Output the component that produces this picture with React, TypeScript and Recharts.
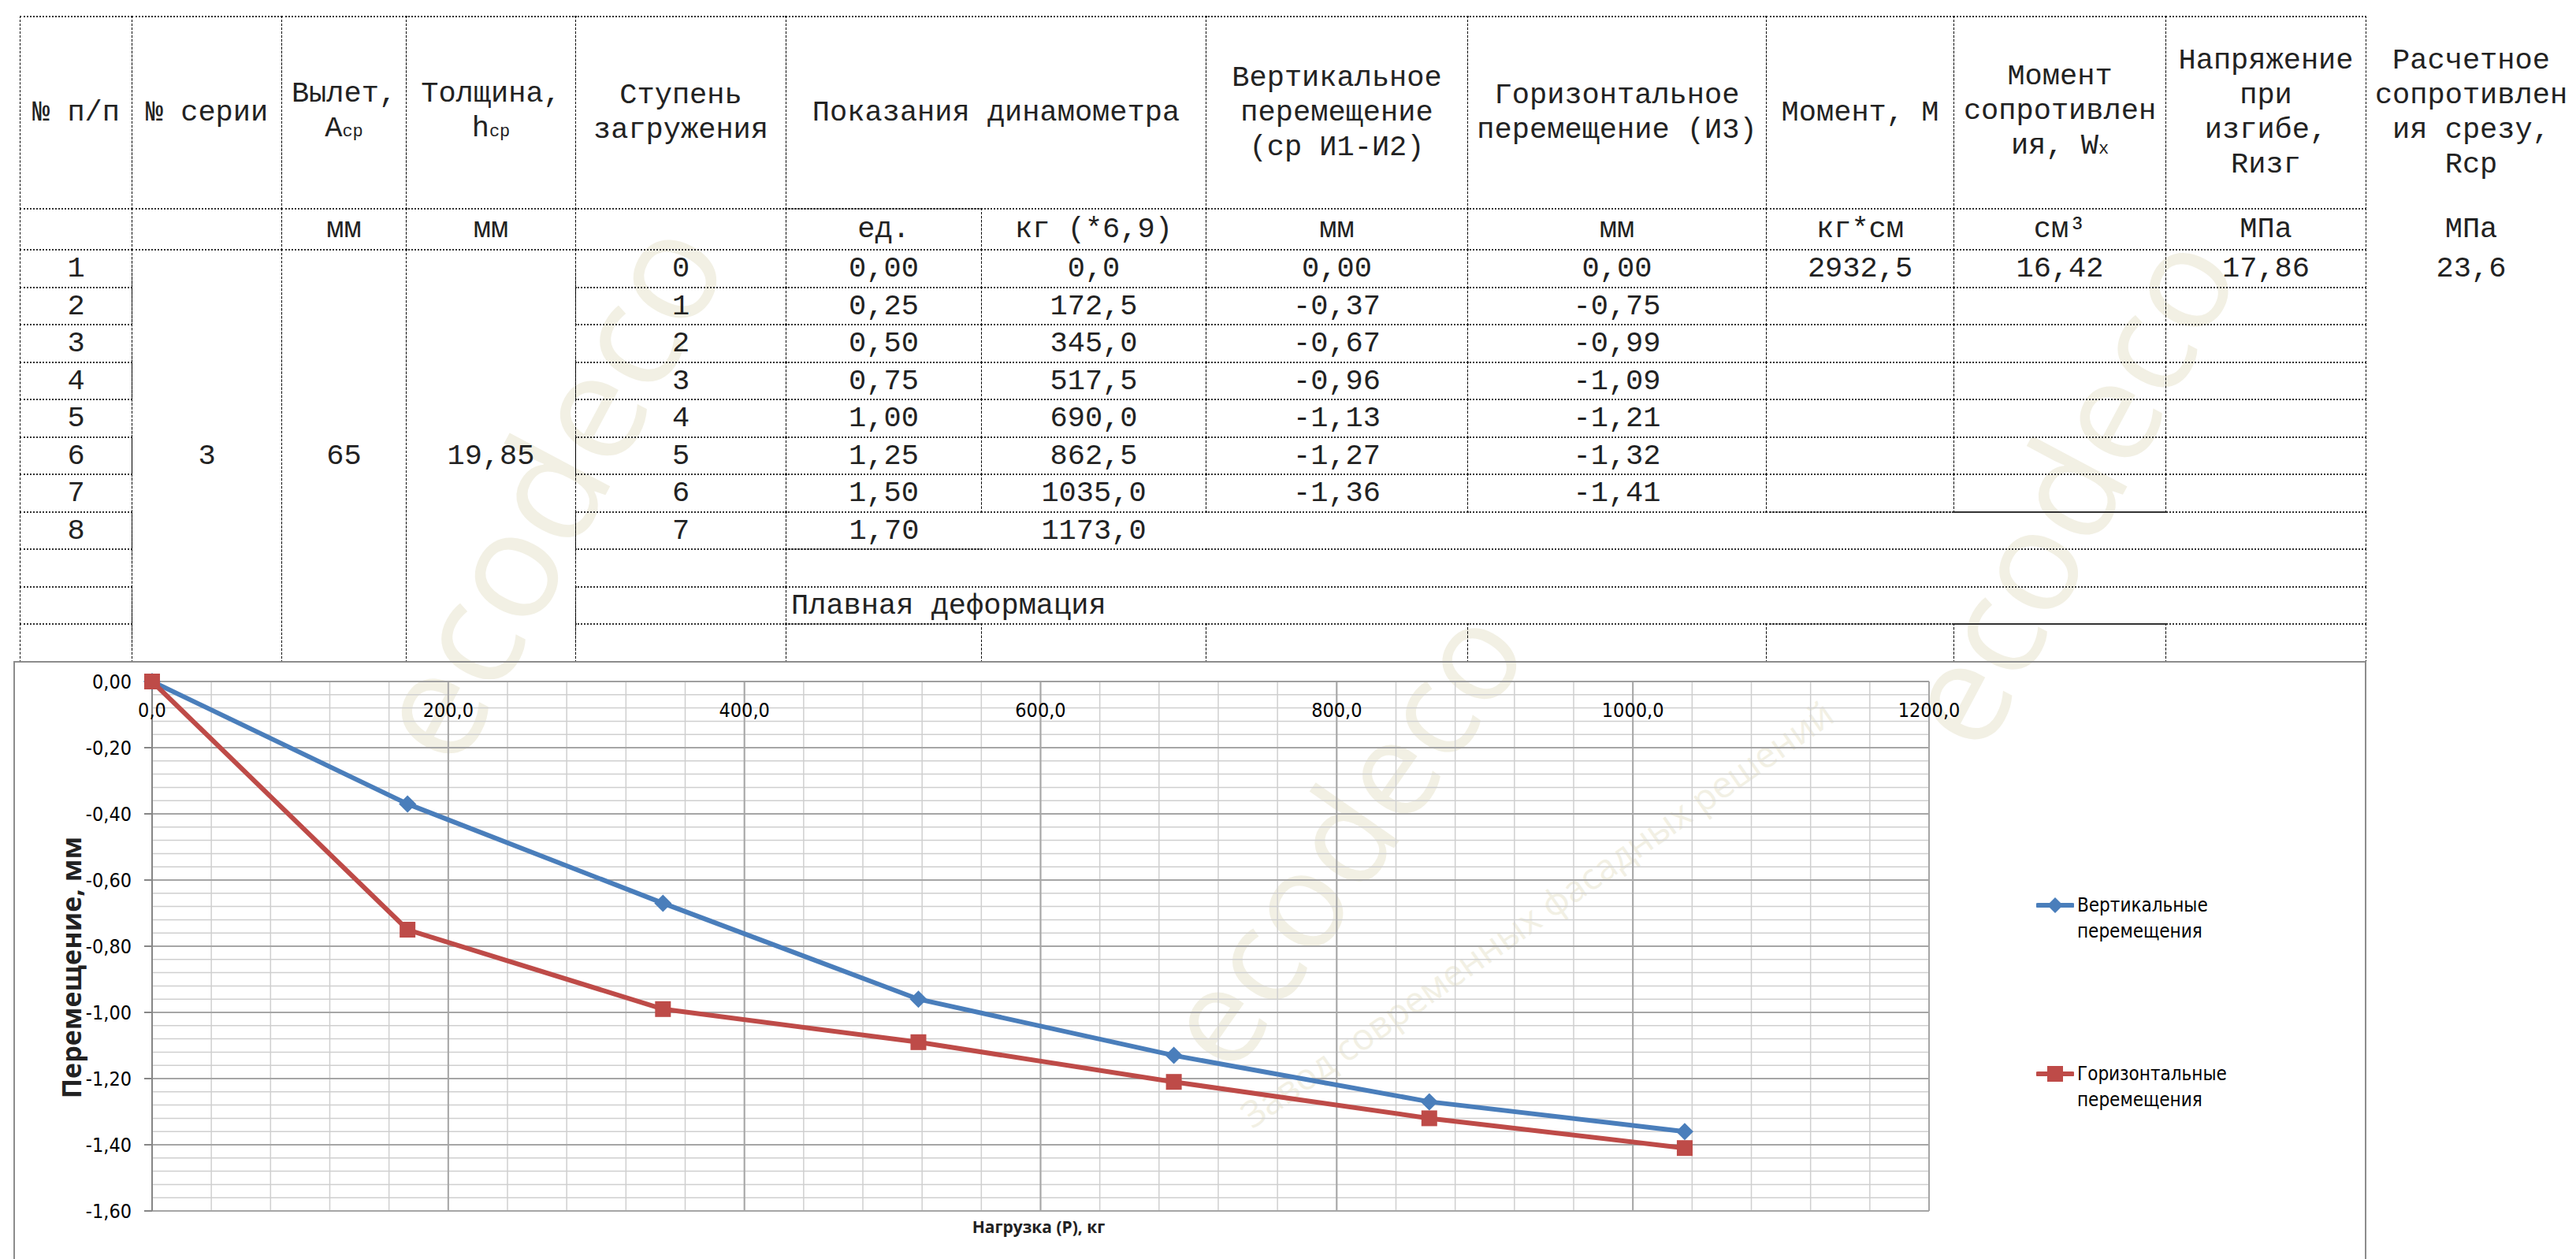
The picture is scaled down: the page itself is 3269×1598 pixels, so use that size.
import React from "react";
import { LineChart, Line, XAxis, YAxis, CartesianGrid } from "recharts";

// --- data ---
const ROW_NO = ["1", "2", "3", "4", "5", "6", "7", "8"];
const LOAD_STEP = ["0", "1", "2", "3", "4", "5", "6", "7"];
const DYN_UNITS = ["0,00", "0,25", "0,50", "0,75", "1,00", "1,25", "1,50", "1,70"];
const DYN_KG_TXT = ["0,0", "172,5", "345,0", "517,5", "690,0", "862,5", "1035,0", "1173,0"];

const LOAD_KG = [0, 172.5, 345, 517.5, 690, 862.5, 1035];
const VERT_MM = [0, -0.37, -0.67, -0.96, -1.13, -1.27, -1.36];
const HORIZ_MM = [0, -0.75, -0.99, -1.09, -1.21, -1.32, -1.41];

const X_TICKS = [0, 200, 400, 600, 800, 1000, 1200];
const Y_TICKS = [0, -0.2, -0.4, -0.6, -0.8, -1.0, -1.2, -1.4, -1.6];

const BLUE = "#4a7ebb";
const RED = "#be4b48";

const steps = (from: number, to: number, step: number) => {
  const out: number[] = [];
  for (let v = from; v <= to + 1e-9; v += step) out.push(+v.toFixed(4));
  return out;
};
const X_MINOR = steps(0, 1200, 40);
const Y_MINOR = steps(-1.6, 0, 0.04);

const comma = (v: number, d: number) => v.toFixed(d).replace(".", ",");

// --- table geometry ---
const COL_X = [25, 167, 357, 515, 730, 997, 1245, 1530, 1862, 2241, 2479, 2748, 3002, 3269];
const ROW_Y = [21, 265, 317, 365, 412, 460, 507, 555, 602, 650, 697, 745, 792, 840];

type Cell = {
  r: number;
  c: number;
  rs?: number;
  cs?: number;
  text?: React.ReactNode;
  b?: string;
  left?: boolean;
};

const sub = (t: string) => <span style={{ fontSize: 22 }}>{t}</span>;

function buildCells(): Cell[] {
  const cells: Cell[] = [];
  const nb = "";
  // header
  cells.push({ r: 0, c: 0, text: "№ п/п" });
  cells.push({ r: 0, c: 1, text: "№ серии" });
  cells.push({ r: 0, c: 2, text: <>Вылет,<br />A{sub("ср")}</> });
  cells.push({ r: 0, c: 3, text: <>Толщина,<br />h{sub("ср")}</> });
  cells.push({ r: 0, c: 4, text: "Ступень\nзагружения" });
  cells.push({ r: 0, c: 5, cs: 2, text: "Показания динамометра" });
  cells.push({ r: 0, c: 7, text: "Вертикальное\nперемещение\n(ср И1-И2)" });
  cells.push({ r: 0, c: 8, text: "Горизонтальное\nперемещение (И3)" });
  cells.push({ r: 0, c: 9, text: "Момент, М" });
  cells.push({ r: 0, c: 10, text: <>Момент<br />сопротивлен<br />ия, W{sub("x")}</> });
  cells.push({ r: 0, c: 11, text: "Напряжение\nпри\nизгибе,\nRизг" });
  cells.push({ r: 0, c: 12, b: nb, text: "Расчетное\nсопротивлен\nия срезу,\nRср" });
  // units
  const units = ["", "", "мм", "мм", "", "ед.", "кг (*6,9)", "мм", "мм", "кг*см", "см³", "МПа"];
  units.forEach((u, c) => cells.push({ r: 1, c, text: u }));
  cells.push({ r: 1, c: 12, b: nb, text: "МПа" });
  // merged series columns
  cells.push({ r: 2, c: 1, rs: 11, text: "3" });
  cells.push({ r: 2, c: 2, rs: 11, text: "65" });
  cells.push({ r: 2, c: 3, rs: 11, text: "19,85" });
  // data rows 1..7
  for (let i = 0; i < 7; i++) {
    const r = i + 2;
    cells.push({ r, c: 0, text: ROW_NO[i] });
    cells.push({ r, c: 4, text: LOAD_STEP[i] });
    cells.push({ r, c: 5, text: DYN_UNITS[i] });
    cells.push({ r, c: 6, text: DYN_KG_TXT[i] });
    cells.push({ r, c: 7, text: comma(VERT_MM[i], 2) });
    cells.push({ r, c: 8, text: comma(HORIZ_MM[i], 2) });
    cells.push({ r, c: 9, text: i === 0 ? "2932,5" : "" });
    cells.push({ r, c: 10, text: i === 0 ? "16,42" : "" });
    cells.push({ r, c: 11, text: i === 0 ? "17,86" : "" });
    if (i === 0) cells.push({ r, c: 12, b: nb, text: "23,6" });
  }
  // row 8
  cells.push({ r: 9, c: 0, text: ROW_NO[7] });
  cells.push({ r: 9, c: 4, text: LOAD_STEP[7] });
  cells.push({ r: 9, c: 5, b: "tlb", text: DYN_UNITS[7] });
  cells.push({ r: 9, c: 6, b: "tb", text: DYN_KG_TXT[7] });
  cells.push({ r: 9, c: 7, cs: 5, b: "tbr" });
  // empty rows
  cells.push({ r: 10, c: 0 });
  cells.push({ r: 10, c: 4 });
  cells.push({ r: 10, c: 5, cs: 7 });
  cells.push({ r: 11, c: 0 });
  cells.push({ r: 11, c: 4 });
  cells.push({ r: 11, c: 5, cs: 7, left: true, text: "Плавная деформация" });
  cells.push({ r: 12, c: 0 });
  for (let c = 4; c < 12; c++) cells.push({ r: 12, c });
  return cells;
}

const H_BORDER = "2px dotted #333";
const V_BORDER = "1px dashed #000";

function Table() {
  const cells = buildCells();
  return (
    <>
      {cells.map((cell, i) => {
        const rs = cell.rs ?? 1;
        const cs = cell.cs ?? 1;
        const x0 = COL_X[cell.c];
        const x1 = COL_X[cell.c + cs];
        const y0 = ROW_Y[cell.r];
        const y1 = ROW_Y[cell.r + rs];
        const b = cell.b ?? "tlrb";
        return (
          <div
            key={i}
            style={{
              position: "absolute",
              left: x0,
              top: y0 - 1,
              width: x1 - x0 + 1,
              height: y1 - y0 + 2,
              boxSizing: "border-box",
              borderTop: b.includes("t") ? H_BORDER : "none",
              borderBottom: b.includes("b") ? H_BORDER : "none",
              borderLeft: b.includes("l") ? V_BORDER : "none",
              borderRight: b.includes("r") ? V_BORDER : "none",
              display: "flex",
              alignItems: "center",
              justifyContent: cell.left ? "flex-start" : "center",
              paddingLeft: cell.left ? 6 : 0,
              textAlign: "center",
              whiteSpace: "pre-line",
              lineHeight: "44px",
              overflow: "hidden",
            }}
          >
            <div style={{ whiteSpace: "pre-line" }}>{cell.text}</div>
          </div>
        );
      })}
    </>
  );
}

// faint background watermark of the source document
const WATERMARKS = [
  { text: "ecodeco", x: 690, y: 620, size: 190, rot: -62 },
  { text: "ecodeco", x: 1700, y: 1060, size: 170, rot: -55 },
  { text: "Завод современных фасадных решений", x: 1950, y: 1160, size: 46, rot: -35 },
  { text: "ecodeco", x: 2620, y: 620, size: 180, rot: -62 },
];

function Watermark() {
  return (
    <>
      {WATERMARKS.map((w, i) => (
        <div
          key={i}
          style={{
            position: "absolute",
            left: w.x - 800,
            top: w.y - w.size * 0.6,
            width: 1600,
            height: w.size * 1.2,
            lineHeight: `${w.size * 1.2}px`,
            textAlign: "center",
            fontFamily: "'Open Sans', sans-serif",
            fontSize: w.size,
            color: "#f2f0e4",
            transform: `rotate(${w.rot}deg)`,
            whiteSpace: "nowrap",
          }}
        >
          {w.text}
        </div>
      ))}
    </>
  );
}

// --- chart ---
const CHART_W = 2982;
const CHART_H = 759;
const PLOT_TOP = 24;
const CHART_FONT = "'Liberation Sans Narrow', 'DejaVu Sans Condensed', 'Roboto Condensed', Roboto, sans-serif";

const chartData = LOAD_KG.map((x, i) => ({ x, v: VERT_MM[i], h: HORIZ_MM[i] }));

const Diamond = (props: any) => {
  const { cx, cy } = props;
  if (cx == null || cy == null) return null;
  const s = 11;
  return <path d={`M${cx},${cy - s}L${cx + s},${cy}L${cx},${cy + s}L${cx - s},${cy}Z`} fill={BLUE} />;
};

const Square = (props: any) => {
  const { cx, cy } = props;
  if (cx == null || cy == null) return null;
  const s = 10;
  return <rect x={cx - s} y={cy - s} width={s * 2} height={s * 2} fill={RED} />;
};

const XTick = (props: any) => {
  const { x, payload } = props;
  return (
    <text x={x} y={PLOT_TOP + 36} textAnchor="middle" dominantBaseline="central" fontSize={25} fill="#000" fontFamily={CHART_FONT}>
      {comma(payload.value, 1)}
    </text>
  );
};

function Chart() {
  return (
    <div
      style={{
        position: "absolute",
        left: 17,
        top: 839,
        width: CHART_W,
        height: 800,
        border: "2px solid #8c8c8c",
      }}
    >
      <LineChart
        width={CHART_W}
        height={CHART_H}
        data={chartData}
        margin={{ top: PLOT_TOP - 1, right: 553, bottom: 63, left: 54 }}
      >
        <CartesianGrid stroke="#cfcfcf" strokeWidth={1.5} horizontalValues={Y_MINOR} verticalValues={X_MINOR} />
        <CartesianGrid stroke="#a6a6a6" strokeWidth={2} horizontalValues={Y_TICKS} verticalValues={X_TICKS} fill="none" />
        <XAxis
          dataKey="x"
          type="number"
          orientation="top"
          height={1}
          domain={[0, 1200]}
          ticks={X_TICKS}
          tick={<XTick />}
          tickLine={false}
          axisLine={{ stroke: "#a0a0a0", strokeWidth: 2 }}
          interval={0}
        />
        <YAxis
          type="number"
          width={120}
          domain={[-1.6, 0]}
          ticks={Y_TICKS}
          interval={0}
          tickFormatter={(v: number) => comma(v, 2)}
          tick={{ fontSize: 25, fill: "#000", fontFamily: CHART_FONT }}
          tickSize={10}
          tickMargin={16}
          tickLine={{ stroke: "#868686", strokeWidth: 2 }}
          axisLine={{ stroke: "#868686", strokeWidth: 2 }}
        />
        <Line dataKey="v" stroke={BLUE} strokeWidth={6} dot={<Diamond />} activeDot={false} isAnimationActive={false} />
        <Line dataKey="h" stroke={RED} strokeWidth={6} dot={<Square />} activeDot={false} isAnimationActive={false} />
      </LineChart>
      <div
        style={{
          position: "absolute",
          left: 90 - 19 - 250,
          top: 1228 - 841 - 25,
          width: 500,
          height: 50,
          lineHeight: "50px",
          textAlign: "center",
          transform: "rotate(-90deg)",
          fontFamily: "'Open Sans', sans-serif",
          fontWeight: 700,
          fontSize: 34,
        }}
      >
        Перемещение, мм
      </div>
      <div
        style={{
          position: "absolute",
          left: 1318 - 19 - 200,
          top: 1557 - 841 - 20,
          width: 400,
          height: 40,
          lineHeight: "40px",
          textAlign: "center",
          fontFamily: "'Open Sans', sans-serif",
          fontWeight: 700,
          fontSize: 21,
        }}
      >
        Нагрузка (Р), кг
      </div>
      <LegendItem top={1133 - 841} color={BLUE} shape="diamond" lines={["Вертикальные", "перемещения"]} />
      <LegendItem top={1347 - 841} color={RED} shape="square" lines={["Горизонтальные", "перемещения"]} />
    </div>
  );
}

function LegendItem({ top, color, shape, lines }: { top: number; color: string; shape: string; lines: string[] }) {
  return (
    <div style={{ position: "absolute", left: 2584 - 19, top, display: "flex", alignItems: "flex-start" }}>
      <svg width={48} height={33} style={{ flex: "none" }}>
        <line x1={2} x2={46} y1={16} y2={16} stroke={color} strokeWidth={6} strokeLinecap="round" />
        {shape === "diamond" ? (
          <path d="M24,6L34,16L24,26L14,16Z" fill={color} />
        ) : (
          <rect x={14} y={6} width={20} height={20} fill={color} />
        )}
      </svg>
      <div style={{ marginLeft: 4, fontFamily: CHART_FONT, fontSize: 24, lineHeight: "33px", color: "#000" }}>
        {lines.map((l, i) => (
          <div key={i}>{l}</div>
        ))}
      </div>
    </div>
  );
}

export default function App() {
  return (
    <div
      style={{
        position: "fixed",
        left: 0,
        top: 0,
        width: 3269,
        height: 1598,
        overflow: "hidden",
        background: "#fff",
        fontFamily: "'Liberation Mono', 'DejaVu Sans Mono', monospace",
        fontSize: 37,
        color: "#222",
      }}
    >
      <Watermark />
      <Table />
      <Chart />
    </div>
  );
}
